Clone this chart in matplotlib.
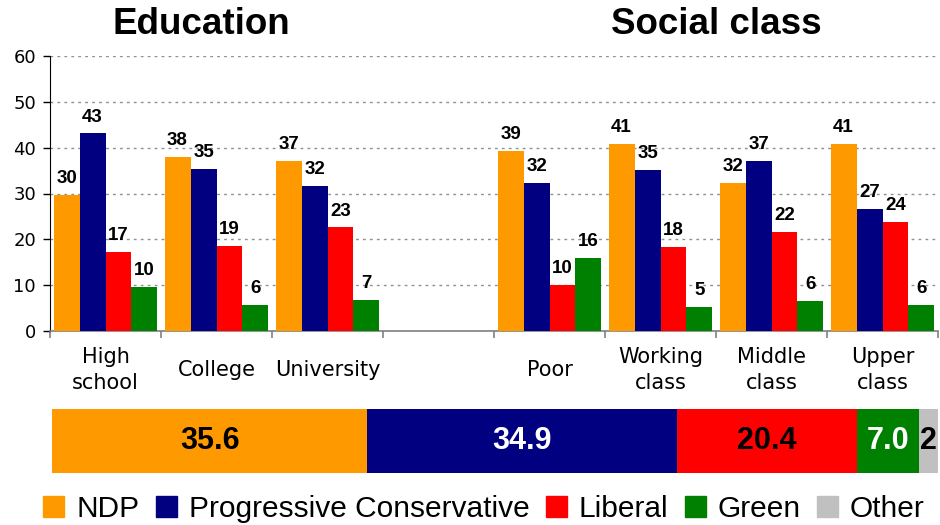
import numpy as np
import matplotlib.pyplot as plt
from matplotlib.patches import Patch

# groups along the x axis (slot 3 is left empty between the two panels)
groups = ['High\nschool', 'College', 'University', 'Poor', 'Working\nclass', 'Middle\nclass', 'Upper\nclass']
slots = [0, 1, 2, 4, 5, 6, 7]

ndp = [29.7, 38.0, 37.1, 39.3, 40.8, 32.3, 40.8]
pc = [43.1, 35.3, 31.6, 32.3, 35.1, 37.1, 26.6]
liberal = [17.2, 18.6, 22.6, 10.0, 18.3, 21.6, 23.8]
green = [9.6, 5.7, 6.7, 15.9, 5.3, 6.5, 5.7]

parties = ['NDP', 'Progressive Conservative', 'Liberal', 'Green', 'Other']
colors = ['#FF9900', '#000080', '#FF0000', '#008000', '#C0C0C0']

# overall result shown in the strip below
overall = [35.6, 34.9, 20.4, 7.0, 2.1]
overall_labels = ['35.6', '34.9', '20.4', '7.0', '2']
overall_txt = ['black', 'white', 'black', 'white', 'black']

bold = 'Liberation Sans'

fig = plt.figure(figsize=(9.4, 5.25), dpi=100)
ax = fig.add_axes([50/940, 1-331/525, 888/940, 275/525])

w = 0.234
x = np.array(slots)
for i, vals in enumerate([ndp, pc, liberal, green]):
    xs = x + (i - 1.5) * w
    ax.bar(xs, vals, width=w, color=colors[i], zorder=3)
    for xi, v in zip(xs, vals):
        ax.annotate(f'{v:.0f}', (xi, v), xytext=(0, 8.5), textcoords='offset points',
                    ha='center', va='baseline', fontsize=13.5, fontweight='bold',
                    family=bold, zorder=4)

ax.set_xlim(-0.5, 7.5)
ax.set_ylim(0, 60)
ax.set_yticks(range(0, 61, 10))
ax.tick_params(axis='y', labelsize=13, length=5, pad=5, width=1)
ax.set_xticks(np.arange(-0.5, 8, 1))
ax.set_xticklabels([])
ax.tick_params(axis='x', which='major', length=5, color='#808080', width=1.2)
ax.set_xticks(slots, minor=True)
ax.set_xticklabels(groups, minor=True, fontsize=15, linespacing=1.4)
ax.tick_params(axis='x', which='minor', length=0, pad=28)
for lab in ax.get_xticklabels(minor=True):
    lab.set_va('center')

ax.grid(axis='y', linestyle=(0, (2, 3)), color='#909090', linewidth=1, zorder=0)
ax.spines['top'].set_visible(False)
ax.spines['right'].set_visible(False)
ax.spines['bottom'].set_color('#808080')
ax.spines['bottom'].set_linewidth(1.2)

fig.text(201/940, 1-25/525, 'Education', ha='center', va='center', fontsize=26.5,
         fontweight='bold', family=bold)
fig.text(716/940, 1-25/525, 'Social class', ha='center', va='center', fontsize=26.5,
         fontweight='bold', family=bold)

# overall strip
ax2 = fig.add_axes([52/940, 1-473/525, 886/940, 64/525])
left = 0
for v, c, lab, tc in zip(overall, colors, overall_labels, overall_txt):
    ax2.barh(0, v, left=left, height=1, color=c)
    ax2.text(left + v/2, 0, lab, ha='center', va='center', color=tc, fontsize=22,
             fontweight='bold', family=bold)
    left += v
ax2.set_xlim(0, sum(overall))
ax2.set_ylim(-0.5, 0.5)
ax2.axis('off')

handles = [Patch(color=c, label=p) for c, p in zip(colors, parties)]
fig.legend(handles=handles, loc='center', bbox_to_anchor=(484/940, 1-509/525), ncol=5,
           frameon=False, prop={'family': bold, 'size': 21.5}, handlelength=0.7,
           handleheight=0.7, handletextpad=0.4, columnspacing=0.55, borderaxespad=0)

fig.savefig('out.png', dpi=100)
